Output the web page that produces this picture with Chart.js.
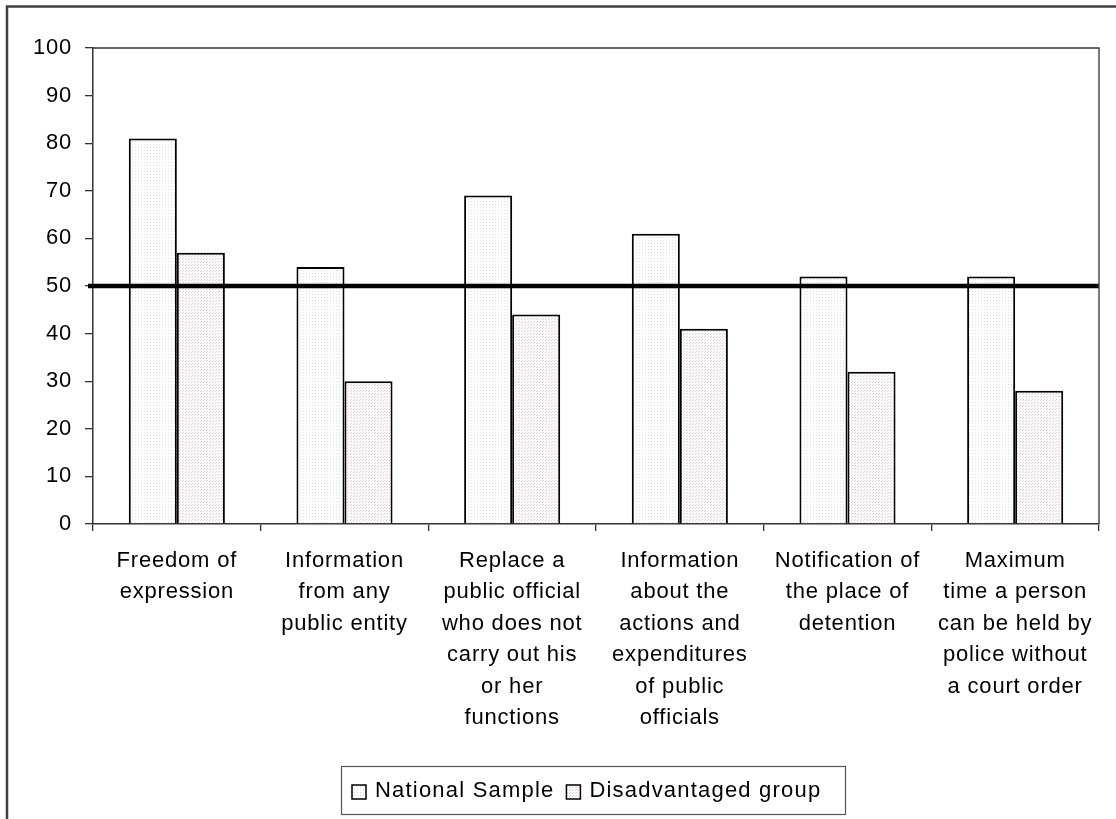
<!DOCTYPE html>
<html>
<head>
<meta charset="utf-8">
<title>National Sample vs Disadvantaged group</title>
<script src="https://cdn.jsdelivr.net/npm/chart.js@4.4.1/dist/chart.umd.min.js"></script>
<style>
  html, body { margin: 0; padding: 0; background: #ffffff; }
  #wrap { width: 1116px; height: 819px; }
</style>
</head>
<body>
<div id="wrap"><canvas id="chart" width="1116" height="819"></canvas></div>
<script>
// Categories (multi-line labels) and series values
const categories = [
  ["Freedom of", "expression"],
  ["Information", "from any", "public entity"],
  ["Replace a", "public official", "who does not", "carry out his", "or her", "functions"],
  ["Information", "about the", "actions and", "expenditures", "of public", "officials"],
  ["Notification of", "the place of", "detention"],
  ["Maximum", "time a person", "can be held by", "police without", "a court order"]
];
const seriesNames = ["National Sample", "Disadvantaged group"];
const nationalSample = [81, 54, 69, 61, 52, 52];
const disadvantagedGroup = [57, 30, 44, 41, 32, 28];
const yMin = 0;
const yMax = 100;
const yStep = 10;
const referenceLevel = 50;

const FONT_FAMILY = "'Liberation Sans', Arial, sans-serif";
const LETTER_SPACING = "0.8px";

// Small dotted fill patterns for the bars
function dotPattern(bg, dot, cells, size) {
  const c = document.createElement("canvas");
  c.width = size; c.height = size;
  const g = c.getContext("2d");
  g.fillStyle = bg;
  g.fillRect(0, 0, size, size);
  g.fillStyle = dot;
  cells.forEach(([x, y]) => g.fillRect(x, y, 1, 1));
  return g.createPattern(c, "repeat");
}
const fillNational = dotPattern("#ffffff", "#dedcf0", [[0, 0]], 3);
const fillDisadvantaged = dotPattern("#ffffff", "#ebcbd7", [[0, 0], [2, 1]], 3);

function applySpacing(chart) {
  chart.ctx.letterSpacing = LETTER_SPACING;
}

const framePlugin = {
  id: "frame",
  beforeUpdate(chart) { applySpacing(chart); },
  beforeLayout(chart) { applySpacing(chart); },
  beforeDraw(chart) {
    applySpacing(chart);
    const ctx = chart.ctx;
    ctx.save();
    ctx.fillStyle = "#ffffff";
    ctx.fillRect(0, 0, chart.width, chart.height);
    // outer frame
    ctx.strokeStyle = "#404040";
    ctx.lineWidth = 2.5;
    ctx.beginPath();
    ctx.moveTo(7, chart.height + 5);
    ctx.lineTo(7, 6.5);
    ctx.lineTo(chart.width + 5, 6.5);
    ctx.stroke();
    ctx.restore();
  },
  afterDatasetsDraw(chart) {
    const ctx = chart.ctx;
    const area = chart.chartArea;
    const y = chart.scales.y.getPixelForValue(referenceLevel);
    ctx.save();
    ctx.strokeStyle = "#000000";
    ctx.lineWidth = 4.5;
    ctx.beginPath();
    ctx.moveTo(area.left - 5, y);
    ctx.lineTo(area.right, y);
    ctx.stroke();
    ctx.restore();
  },
  afterDraw(chart) {
    const ctx = chart.ctx;
    const area = chart.chartArea;
    ctx.save();
    // plot area top and right edges
    ctx.strokeStyle = "#333333";
    ctx.lineWidth = 1.3;
    ctx.beginPath();
    ctx.moveTo(area.left, area.top);
    ctx.lineTo(area.right, area.top);
    ctx.lineTo(area.right, area.bottom);
    ctx.stroke();

    // legend box
    const box = { x: 341, y: 766, w: 504, h: 48 };
    ctx.strokeStyle = "#555555";
    ctx.lineWidth = 1.2;
    ctx.strokeRect(box.x + 0.5, box.y + 0.5, box.w, box.h);

    ctx.letterSpacing = "1.2px";
    ctx.font = "22px " + FONT_FAMILY;
    ctx.textBaseline = "middle";
    ctx.textAlign = "left";
    const cy = box.y + box.h / 2 + 1;
    let x = box.x + 11;
    chart.data.datasets.forEach((ds, i) => {
      const sq = 14;
      ctx.fillStyle = ds.backgroundColor;
      ctx.fillRect(x, cy - sq / 2 + 1, sq, sq);
      ctx.strokeStyle = "#000000";
      ctx.lineWidth = 1.5;
      ctx.strokeRect(x, cy - sq / 2 + 1, sq, sq);
      x += sq + 9;
      ctx.fillStyle = "#000000";
      ctx.fillText(ds.label, x, cy);
      x += ctx.measureText(ds.label).width + 12;
    });
    ctx.restore();
  }
};

new Chart(document.getElementById("chart"), {
  type: "bar",
  data: {
    labels: categories,
    datasets: [
      {
        label: seriesNames[0],
        data: nationalSample,
        backgroundColor: fillNational,
        borderColor: "#000000",
        borderWidth: 2
      },
      {
        label: seriesNames[1],
        data: disadvantagedGroup,
        backgroundColor: fillDisadvantaged,
        borderColor: "#000000",
        borderWidth: 2
      }
    ]
  },
  options: {
    responsive: false,
    animation: false,
    devicePixelRatio: 1,
    layout: { padding: { left: 0, top: 48, right: 17, bottom: 0 } },
    datasets: {
      bar: { categoryPercentage: 0.573, barPercentage: 1.0 }
    },
    plugins: {
      legend: { display: false },
      tooltip: { enabled: false },
      title: { display: false }
    },
    scales: {
      x: {
        afterFit(scale) { scale.height = 295; },
        grid: {
          drawOnChartArea: false,
          drawTicks: true,
          tickLength: 7,
          color: "#333333",
          lineWidth: 1.3,
          offset: true
        },
        border: { display: true, color: "#333333", width: 1.5 },
        ticks: {
          color: "#000000",
          font: { family: FONT_FAMILY, size: 22, lineHeight: 1.43 },
          padding: 14,
          maxRotation: 0,
          minRotation: 0,
          autoSkip: false
        }
      },
      y: {
        min: yMin,
        max: yMax,
        afterFit(scale) { scale.width = 93; },
        grid: {
          drawOnChartArea: false,
          drawTicks: true,
          tickLength: 8,
          color: "#333333",
          lineWidth: 1.3
        },
        border: { display: true, color: "#333333", width: 1.5 },
        ticks: {
          stepSize: yStep,
          color: "#000000",
          font: { family: FONT_FAMILY, size: 22 },
          padding: 13
        }
      }
    }
  },
  plugins: [framePlugin]
});
</script>
</body>
</html>
